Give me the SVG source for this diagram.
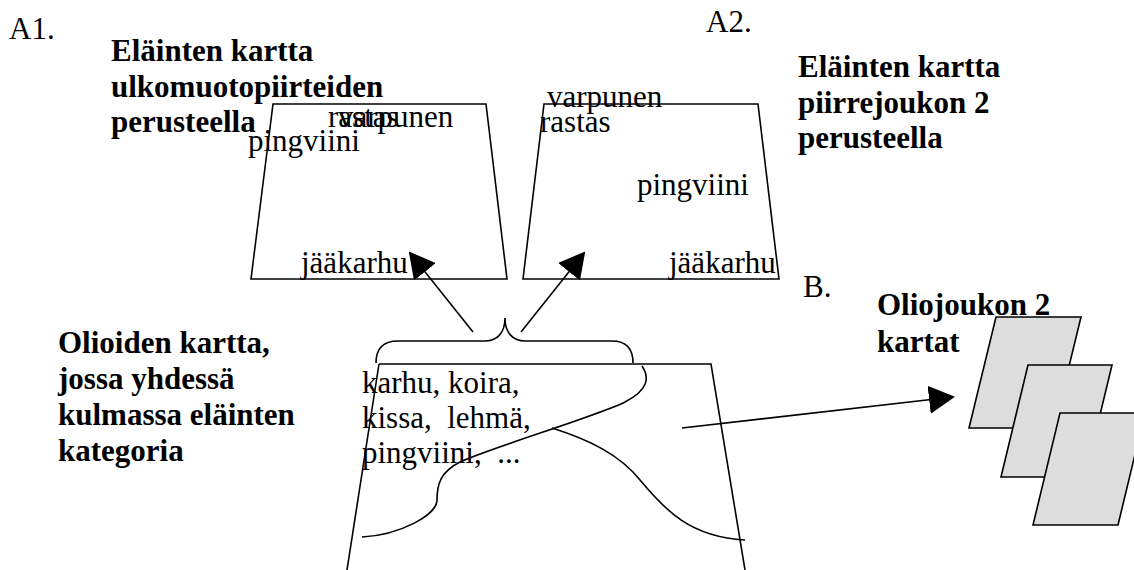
<svg xmlns="http://www.w3.org/2000/svg" width="1134" height="570" viewBox="0 0 1134 570">
  <defs>
    <style>
      .t { font-family: "Liberation Serif", "Times New Roman", serif; font-size: 31px; fill: #000; white-space: pre; }
      .b { font-weight: bold; }
      .map { fill: none; stroke: #000; stroke-width: 1.6; }
      .sheet { fill: #dddddd; stroke: #000; stroke-width: 1.6; }
      .line { fill: none; stroke: #000; stroke-width: 1.6; }
      .arrow { fill: none; stroke: #000; stroke-width: 1.6; marker-end: url(#head); }
    </style>
    <marker id="head" viewBox="0 0 26 28" refX="24" refY="14" markerWidth="26" markerHeight="28" markerUnits="userSpaceOnUse" orient="auto">
      <path d="M0,0 L26,14 L0,28 Z" fill="#000"/>
    </marker>
  </defs>
  <rect width="1134" height="570" fill="#fff"/>

  <!-- A1: map of animals by appearance -->
  <g id="map-a1">
    <text class="t" x="9" y="39">A1.</text>
    <text class="t b" x="111" y="61">Eläinten kartta</text>
    <text class="t b" x="111" y="96.5">ulkomuotopiirteiden</text>
    <text class="t b" x="111" y="132">perusteella</text>
    <path class="map" d="M273,104 L486,104 L507,279 L251,279 Z"/>
    <text class="t" x="328" y="127">rastas</text>
    <text class="t" x="338" y="127">varpunen</text>
    <text class="t" x="248" y="151">pingviini</text>
    <text class="t" x="301" y="273">jääkarhu</text>
  </g>

  <!-- A2: map of animals by feature set 2 -->
  <g id="map-a2">
    <text class="t" x="706" y="32">A2.</text>
    <text class="t b" x="798" y="77">Eläinten kartta</text>
    <text class="t b" x="798" y="112.5">piirrejoukon 2</text>
    <text class="t b" x="798" y="148">perusteella</text>
    <path class="map" d="M544,104 L758,104 L779,279 L523,279 Z"/>
    <text class="t" x="547" y="107">varpunen</text>
    <text class="t" x="540" y="132">rastas</text>
    <text class="t" x="637" y="195">pingviini</text>
    <text class="t" x="669" y="273">jääkarhu</text>
  </g>

  <!-- object map with the animal category in one corner -->
  <g id="object-map">
    <text class="t b" x="58" y="353">Olioiden kartta,</text>
    <text class="t b" x="58" y="389">jossa yhdessä</text>
    <text class="t b" x="58" y="425">kulmassa eläinten</text>
    <text class="t b" x="58" y="461">kategoria</text>
    <path class="map" d="M379,364 L711,364 L745,570 M347,570 L379,364"/>
    <text class="t" x="362" y="393">karhu, koira,</text>
    <text class="t" x="362" y="428">kissa,  lehmä,</text>
    <text class="t" x="362" y="463">pingviini,  ...</text>
    <path class="line" d="M642,366 C650,378 648,390 625,402 C600,415 490,448 460,462 C440,472 437,485 437,500 C437,515 400,535 362,537"/>
    <path class="line" d="M552,428 C590,440 620,455 640,480 C665,510 690,537 745,540"/>
  </g>

  <!-- brace over the animal category -->
  <g id="brace">
    <path class="line" d="M376,363 C376,350 382,341 398,341 L485,341 C497,341 505,333 505,318 C505,333 513,341 525,341 L612,341 C628,341 633,350 633,363"/>
  </g>

  <!-- B: maps of object set 2 -->
  <g id="maps-b">
    <text class="t" x="803" y="297">B.</text>
    <path class="sheet" d="M996,317 L1081,317 L1054,428 L969,428 Z"/>
    <path class="sheet" d="M1028,365 L1112,365 L1085,477 L1001,477 Z"/>
    <path class="sheet" d="M1060,413 L1145,413 L1118,525 L1033,525 Z"/>
    <text class="t b" x="877" y="315">Oliojoukon 2</text>
    <text class="t b" x="877" y="352">kartat</text>
  </g>

  <!-- connectors -->
  <g id="connectors">
    <line class="arrow" x1="473" y1="332" x2="410" y2="253"/>
    <line class="arrow" x1="521" y1="332" x2="584" y2="253"/>
    <line class="arrow" x1="682" y1="428" x2="953" y2="397"/>
  </g>
</svg>
